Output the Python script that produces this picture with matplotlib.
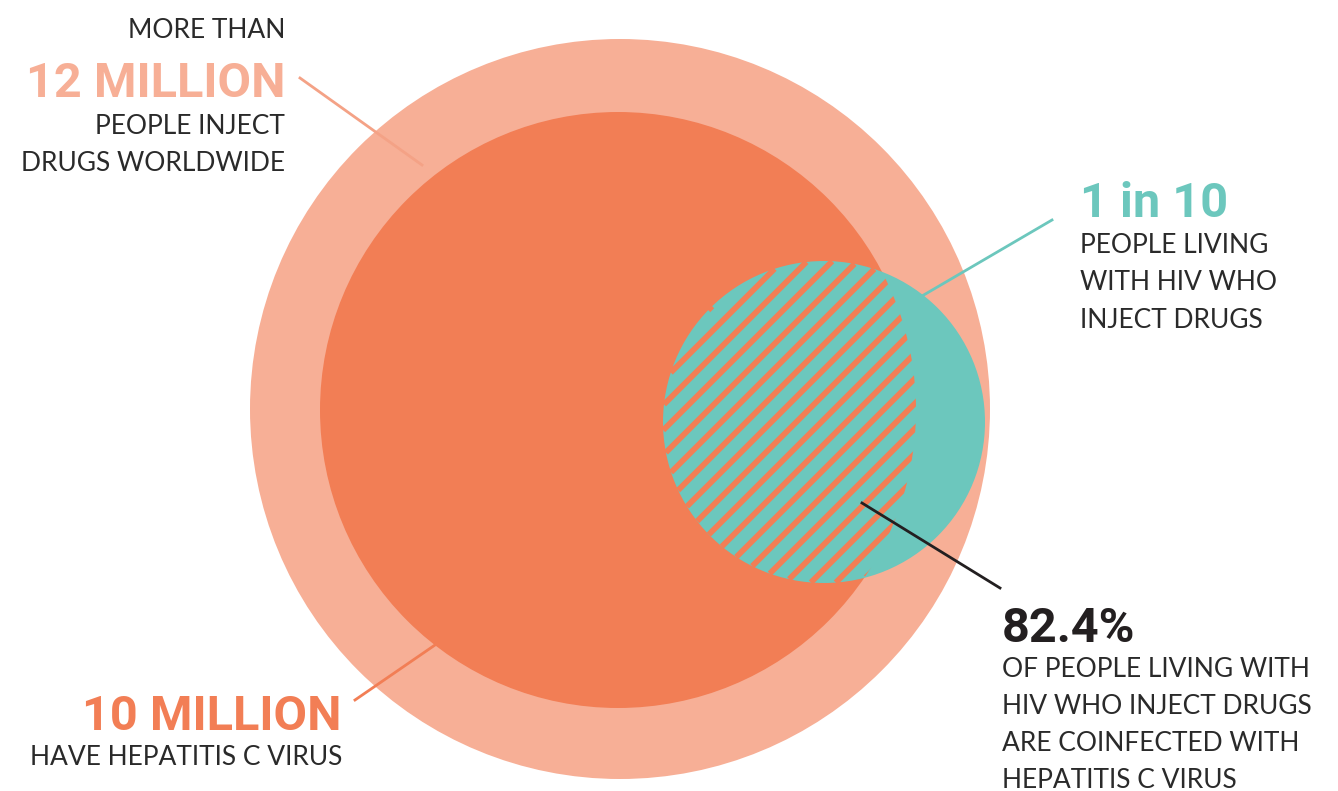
import numpy as np
import matplotlib
matplotlib.use("Agg")
import matplotlib.pyplot as plt
from matplotlib.patches import Circle

# headline figures and their captions
headlines = ["12 MILLION", "10 MILLION", "1 in 10", "82.4%"]
intro = "MORE THAN"
cap_pwid = ["PEOPLE INJECT", "DRUGS WORLDWIDE"]
cap_hcv = ["HAVE HEPATITIS C VIRUS"]
cap_hiv = ["PEOPLE LIVING", "WITH HIV WHO", "INJECT DRUGS"]
cap_coinf = ["OF PEOPLE LIVING WITH", "HIV WHO INJECT DRUGS",
             "ARE COINFECTED WITH", "HEPATITIS C VIRUS"]

PALE = "#F7AF96"
ORANGE = "#F27E55"
TEAL = "#6CC7BD"
DARK = "#231F20"

BIG = ["Roboto", "DejaVu Sans"]
BODY = ["Lato", "DejaVu Sans"]

fig = plt.figure(figsize=(13.38, 7.91), dpi=100)
ax = fig.add_axes([0, 0, 1, 1])
ax.set_xlim(0, 1338)
ax.set_ylim(791, 0)
ax.set_aspect("equal")
ax.axis("off")

# circles (pixel space)
ax.add_patch(Circle((620, 409), 370, fc=PALE, ec="none", zorder=1))
hcv = Circle((618, 410), 298, fc=ORANGE, ec="none", zorder=2)
ax.add_patch(hcv)
tx, ty, tr = 824, 422, 161
ax.add_patch(Circle((tx, ty), tr, fc=TEAL, ec="none", zorder=3))

# diagonal stripes over the HIV circle, only where it overlaps the HCV circle
step = 25.0
for c in np.arange(tx + ty - tr * 1.414, tx + ty + tr * 1.414, step):
    d = (c - tx - ty) / np.sqrt(2)
    if abs(d) >= tr:
        continue
    fx, fy = tx + d / np.sqrt(2), ty + d / np.sqrt(2)
    h = np.sqrt(tr ** 2 - d ** 2) / np.sqrt(2)
    ln, = ax.plot([fx - h, fx + h], [fy + h, fy - h], color=ORANGE,
                  lw=4.1, solid_capstyle="butt", zorder=4)
    ln.set_clip_path(hcv)

# leader lines
ax.plot([300, 422], [78, 165], color="#F4A286", lw=2, zorder=5)
ax.plot([1052, 922], [220, 296], color=TEAL, lw=2, zorder=5)
ax.plot([862, 1000], [503, 588], color=DARK, lw=2, zorder=5)
ax.plot([355, 435], [700, 645], color=ORANGE, lw=2, zorder=5)

body = dict(family=BODY, fontsize=19, color="#2A2A2A", va="baseline")
big = dict(family=BIG, fontsize=35, weight="bold", va="baseline")

# 12 million block
ax.text(285, 38, intro, ha="right", **body)
ax.text(285, 97, headlines[0], ha="right", color=PALE, **big)
for i, s in enumerate(cap_pwid):
    ax.text(285, 134 + i * 37, s, ha="right", **body)

# 10 million block
ax.text(342, 730, headlines[1], ha="right", color=ORANGE, **big)
for s in cap_hcv:
    ax.text(342, 765, s, ha="right", **body)

# 1 in 10 block
ax.text(1080, 217, headlines[2], ha="left", color=TEAL, **big)
for i, s in enumerate(cap_hiv):
    ax.text(1080, 253 + i * 37.5, s, ha="left", **body)

# 82.4% block
ax.text(1002, 642, headlines[3], ha="left", color=DARK, **big)
for i, s in enumerate(cap_coinf):
    ax.text(1002, 677 + i * 37, s, ha="left", **body)

fig.savefig("out.png", dpi=100, facecolor="white")
